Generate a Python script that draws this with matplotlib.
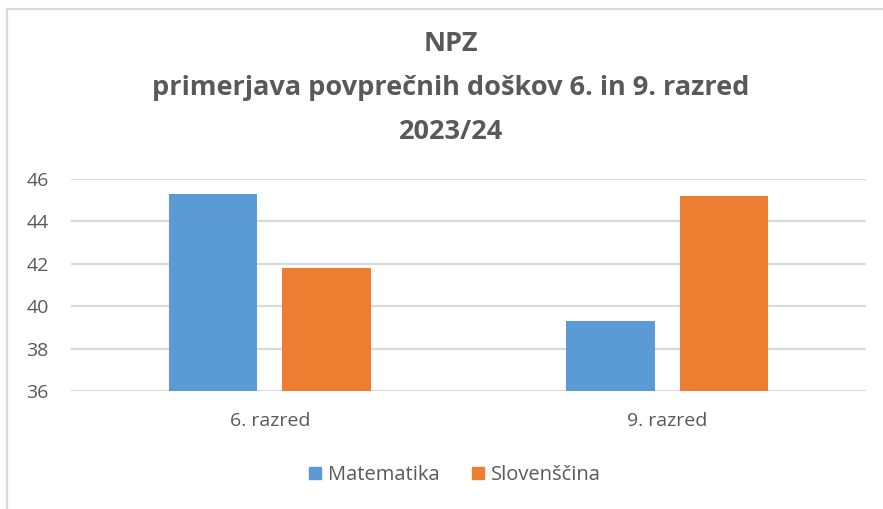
import matplotlib.pyplot as plt
import numpy as np
from matplotlib.lines import Line2D

# data
categories = ["6. razred", "9. razred"]
series_names = ["Matematika", "Slovenščina"]
matematika = [45.3, 39.3]
slovenscina = [41.8, 45.2]
y_ticks = [36, 38, 40, 42, 44, 46]

colors = ["#5B9BD5", "#ED7D31"]
text_col = "#595959"
grid_col = "#D9D9D9"

plt.rcParams['font.family'] = ['Open Sans', 'DejaVu Sans']

fig = plt.figure(figsize=(8.83, 5.09), dpi=100)
ax = fig.add_axes([71 / 883, 1 - 391 / 509, (866 - 71) / 883, (391 - 179) / 509])

x = np.arange(len(categories))
width = 0.222
gap = 0.063
off = width / 2 + gap / 2
ax.bar(x - off, matematika, width, color=colors[0], label=series_names[0], zorder=3)
ax.bar(x + off, slovenscina, width, color=colors[1], label=series_names[1], zorder=3)

ax.set_xlim(-0.5, 1.5)
ax.set_ylim(36, 46)
ax.set_yticks(y_ticks)
ax.set_xticks(x)
ax.set_xticklabels(categories)
ax.yaxis.grid(True, color=grid_col, linewidth=1.6, zorder=0)
ax.tick_params(axis='both', length=0, labelsize=14, colors=text_col)
ax.tick_params(axis='y', pad=16)
ax.tick_params(axis='x', pad=15)
for s in ax.spines.values():
    s.set_visible(False)

# title
title_lines = ["NPZ", "primerjava povprečnih doškov 6. in 9. razred", "2023/24"]
for i, line in enumerate(title_lines):
    fig.text(451 / 883, 1 - (44 + i * 44) / 509, line, ha='center', va='center',
             fontsize=19.5, fontweight='bold', color=text_col)

# legend
handles = [plt.Rectangle((0, 0), 1, 1, color=c) for c in colors]
fig.legend(handles, series_names, loc='center', bbox_to_anchor=(455 / 883, 1 - 475 / 509),
           ncol=2, frameon=False, fontsize=14.5, labelcolor=text_col,
           handlelength=0.6, handleheight=0.6, handletextpad=0.35, columnspacing=1.6)

# chart border (only top and left visible)
fig.add_artist(Line2D([6.5 / 883, 6.5 / 883], [0, 1 - 8.5 / 509], transform=fig.transFigure,
                      color=grid_col, linewidth=1.6))
fig.add_artist(Line2D([6.5 / 883, 1], [1 - 8.5 / 509, 1 - 8.5 / 509], transform=fig.transFigure,
                      color=grid_col, linewidth=1.6))

fig.savefig("out.png", dpi=100)
